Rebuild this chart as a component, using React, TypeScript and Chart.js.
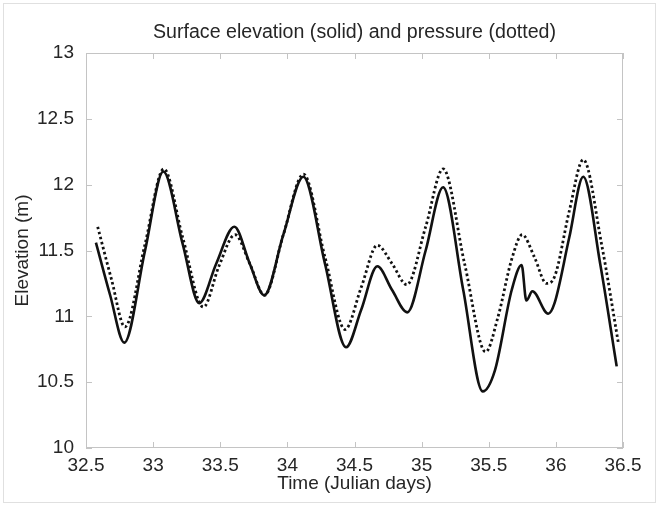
import React, { useEffect, useRef } from "react";
import { Chart, registerables } from "chart.js";

Chart.register(...registerables);

const titleText = "Surface elevation (solid) and pressure (dotted)";
const xTitle = "Time (Julian days)";
const yTitle = "Elevation (m)";

const xTicks = [32.5, 33, 33.5, 34, 34.5, 35, 35.5, 36, 36.5];
const yTicks = [10, 10.5, 11, 11.5, 12, 12.5, 13];

const surfaceTime = [
  32.574, 32.68, 32.785, 32.94, 33.076, 33.22, 33.344, 33.47, 33.605, 33.72,
  33.828, 33.97, 34.119, 34.28, 34.437, 34.55, 34.67, 34.78, 34.893, 35.03,
  35.16, 35.31, 35.455, 35.546, 35.671, 35.745, 35.78, 35.825, 35.943, 35.99,
  36.1, 36.204, 36.33, 36.453,
];
const surfaceElev = [
  11.56, 11.16, 10.8, 11.5, 12.1, 11.55, 11.1, 11.4, 11.68, 11.4,
  11.16, 11.62, 12.06, 11.4, 10.765, 11.05, 11.38, 11.2, 11.03, 11.5,
  11.98, 11.2, 10.43, 10.59, 11.2, 11.39, 11.12, 11.19, 11.02, 11.1,
  11.6, 12.06, 11.4, 10.62,
];

const pressureTime = [
  32.587, 32.69, 32.79, 32.94, 33.08, 33.22, 33.374, 33.49, 33.61, 33.72,
  33.83, 33.97, 34.12, 34.28, 34.43, 34.55, 34.67, 34.78, 34.89, 35.03,
  35.16, 35.32, 35.477, 35.57, 35.67, 35.75, 35.84, 35.93, 35.99, 36.1,
  36.204, 36.34, 36.465,
];
const pressureElev = [
  11.68, 11.28, 10.92, 11.55, 12.12, 11.6, 11.07, 11.38, 11.62, 11.4,
  11.16, 11.62, 12.08, 11.45, 10.9, 11.22, 11.54, 11.4, 11.24, 11.68,
  12.12, 11.4, 10.73, 11.0, 11.43, 11.62, 11.45, 11.25, 11.3, 11.8,
  12.19, 11.55, 10.8,
];

const FONT = "'Liberation Sans', Arial, Helvetica, sans-serif";
const TEXT_COLOR = "#262626";

const framePlugin = {
  id: "matlabFrame",
  beforeDraw(chart: any) {
    const { ctx, width, height } = chart;
    ctx.save();
    ctx.fillStyle = "#ffffff";
    ctx.fillRect(0, 0, width, height);
    ctx.strokeStyle = "#e0e0e0";
    ctx.lineWidth = 1;
    ctx.strokeRect(3.5, 3.5, width - 7, height - 9);
    ctx.restore();
  },
  beforeDatasetsDraw(chart: any) {
    const { ctx, chartArea } = chart;
    const { left, right, top, bottom } = chartArea;
    const xs = chart.scales.x;
    const ys = chart.scales.y;
    ctx.save();
    ctx.strokeStyle = "#c4c4c4";
    ctx.lineWidth = 1;
    ctx.strokeRect(left + 0.5, top + 0.5, right - left - 1, bottom - top - 1);
    const tl = 6;
    ctx.beginPath();
    for (const v of xTicks) {
      const px = Math.round(xs.getPixelForValue(v)) + 0.5;
      ctx.moveTo(px, bottom);
      ctx.lineTo(px, bottom - tl);
      ctx.moveTo(px, top);
      ctx.lineTo(px, top + tl);
    }
    for (const v of yTicks) {
      const py = Math.round(ys.getPixelForValue(v)) + 0.5;
      ctx.moveTo(left, py);
      ctx.lineTo(left + tl, py);
      ctx.moveTo(right, py);
      ctx.lineTo(right - tl, py);
    }
    ctx.stroke();
    ctx.restore();
  },
  afterDraw(chart: any) {
    const { ctx, chartArea } = chart;
    ctx.save();
    ctx.fillStyle = TEXT_COLOR;
    ctx.font = `19.6px ${FONT}`;
    ctx.textAlign = "center";
    ctx.textBaseline = "alphabetic";
    ctx.fillText(titleText, (chartArea.left + chartArea.right) / 2, 38);
    ctx.restore();
  },
};

const fmt = (v: any) => String(Number(v));

export default function App() {
  const canvasRef = useRef<HTMLCanvasElement | null>(null);

  useEffect(() => {
    if (!canvasRef.current) return;
    const chart = new Chart(canvasRef.current, {
      type: "line",
      data: {
        datasets: [
          {
            label: "Surface elevation",
            data: surfaceTime.map((t, i) => ({ x: t, y: surfaceElev[i] })),
            borderColor: "#111111",
            borderWidth: 2.6,
            pointRadius: 0,
            cubicInterpolationMode: "monotone",
            fill: false,
          },
          {
            label: "Pressure",
            data: pressureTime.map((t, i) => ({ x: t, y: pressureElev[i] })),
            borderColor: "#111111",
            borderWidth: 2.8,
            borderDash: [2.5, 2.7],
            pointRadius: 0,
            cubicInterpolationMode: "monotone",
            fill: false,
          },
        ],
      },
      options: {
        animation: false,
        responsive: true,
        maintainAspectRatio: false,
        layout: { padding: { top: 53, right: 36, left: 0, bottom: 0 } },
        plugins: {
          legend: { display: false },
          title: { display: false },
          tooltip: { enabled: false },
        },
        scales: {
          x: {
            type: "linear",
            min: 32.5,
            max: 36.5,
            afterBuildTicks: (scale: any) => {
              scale.ticks = xTicks.map((v) => ({ value: v }));
            },
            afterFit: (scale: any) => {
              scale.height = 60;
            },
            grid: { display: false },
            border: { display: false },
            ticks: {
              color: TEXT_COLOR,
              font: { family: FONT, size: 19 },
              padding: -2,
              maxRotation: 0,
              autoSkip: false,
              callback: fmt,
            },
            title: {
              display: true,
              text: xTitle,
              color: TEXT_COLOR,
              font: { family: FONT, size: 19 },
              padding: { top: 0, bottom: 13 },
            },
          },
          y: {
            type: "linear",
            min: 10,
            max: 13,
            afterBuildTicks: (scale: any) => {
              scale.ticks = yTicks.map((v) => ({ value: v }));
            },
            afterFit: (scale: any) => {
              scale.width = 86;
            },
            grid: { display: false },
            border: { display: false },
            ticks: {
              color: TEXT_COLOR,
              font: { family: FONT, size: 19 },
              padding: 4,
              autoSkip: false,
              callback: fmt,
            },
            title: {
              display: true,
              text: yTitle,
              color: TEXT_COLOR,
              font: { family: FONT, size: 19 },
              padding: { top: 11, bottom: 0 },
            },
          },
        },
      },
      plugins: [framePlugin],
    });
    return () => chart.destroy();
  }, []);

  return (
    <div style={{ position: "absolute", left: 0, top: 0, width: 659, height: 508 }}>
      <canvas ref={canvasRef} />
    </div>
  );
}
